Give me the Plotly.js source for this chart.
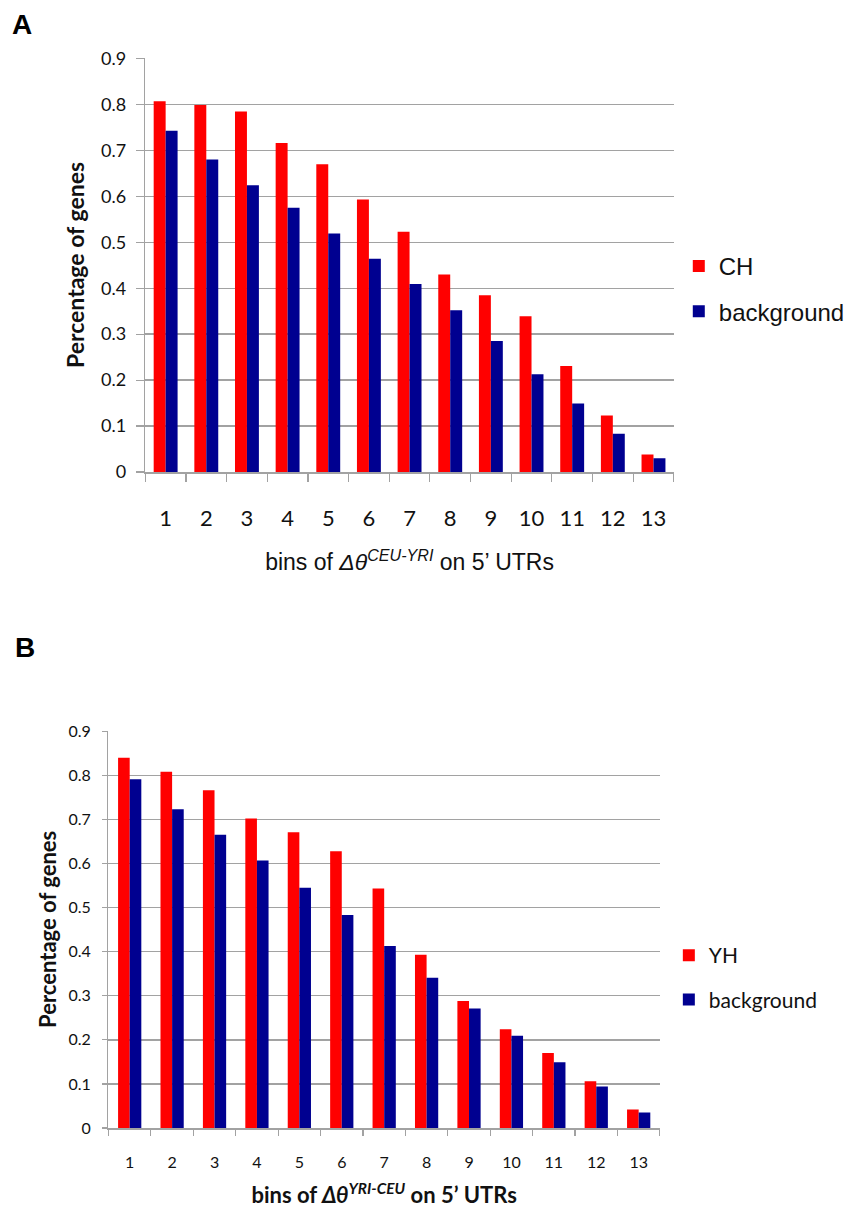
<!DOCTYPE html>
<html>
<head>
<meta charset="utf-8">
<script src="https://cdn.plot.ly/plotly-3.0.1.min.js"></script>
<style>
  html, body { margin: 0; padding: 0; background: #ffffff; }
  #chart { width: 850px; height: 1214px; }
</style>
</head>
<body>
<div id="chart"></div>
<script>
// ---- data ----
const bins = ['1','2','3','4','5','6','7','8','9','10','11','12','13'];

// Panel A : Δθ CEU-YRI
const chA = [0.807, 0.799, 0.785, 0.716, 0.670, 0.593, 0.523, 0.430, 0.385, 0.339, 0.231, 0.123, 0.038];
const bgA = [0.743, 0.680, 0.624, 0.575, 0.519, 0.464, 0.409, 0.352, 0.285, 0.213, 0.149, 0.083, 0.030];

// Panel B : Δθ YRI-CEU
const yhB = [0.840, 0.808, 0.766, 0.702, 0.671, 0.628, 0.543, 0.393, 0.288, 0.224, 0.170, 0.106, 0.042];
const bgB = [0.791, 0.723, 0.665, 0.607, 0.545, 0.483, 0.413, 0.341, 0.271, 0.209, 0.149, 0.094, 0.035];

const yTickVals = [0, 0.1, 0.2, 0.3, 0.4, 0.5, 0.6, 0.7, 0.8, 0.9];
const yTickText = ['0', '0.1', '0.2', '0.3', '0.4', '0.5', '0.6', '0.7', '0.8', '0.9'];

// ---- styles ----
const RED = '#ff0000';
const BLUE = '#000090';
const GRID = '#a2a2a2';
const CAL = 'Lato, "Open Sans", sans-serif';
const ARI = '"Liberation Sans", Arial, Helvetica, sans-serif';
const W = 850, H = 1214;
const px = v => v / W;
const py = v => 1 - v / H;

const wA = 0.294, wB = 0.274;

const traces = [
  { type: 'bar', x: bins, y: chA, name: 'CH', xaxis: 'x', yaxis: 'y',
    marker: { color: RED }, width: wA, offset: -wA, legend: 'legend', legendgroup: 'a1' },
  { type: 'bar', x: bins, y: bgA, name: 'background', xaxis: 'x', yaxis: 'y',
    marker: { color: BLUE }, width: wA, offset: 0, legend: 'legend', legendgroup: 'a2' },
  { type: 'bar', x: bins, y: yhB, name: 'YH', xaxis: 'x2', yaxis: 'y2',
    marker: { color: RED }, width: wB, offset: -wB, legend: 'legend2', legendgroup: 'b1' },
  { type: 'bar', x: bins, y: bgB, name: 'background', xaxis: 'x2', yaxis: 'y2',
    marker: { color: BLUE }, width: wB, offset: 0, legend: 'legend2', legendgroup: 'b2' }
];

const layout = {
  width: W, height: H, autosize: false,
  margin: { l: 0, r: 0, t: 0, b: 0 },
  paper_bgcolor: '#ffffff', plot_bgcolor: '#ffffff',
  barmode: 'group',
  showlegend: true,
  xaxis: {
    domain: [px(146), px(677)], anchor: 'y', type: 'category',
    showgrid: false, showline: true, linecolor: GRID, linewidth: 1.5,
    ticks: 'outside', tickson: 'boundaries', ticklen: 8, tickcolor: GRID, tickwidth: 1.2,
    ticklabelstandoff: 26,
    tickfont: { family: CAL, size: 22, color: '#111' },
    title: { text: 'bins of <i>Δθ<sup>CEU-YRI</sup></i> on 5’ UTRs',
             font: { family: ARI, size: 23, color: '#111' }, standoff: 24 },
    fixedrange: true
  },
  yaxis: {
    domain: [py(472), py(58)], anchor: 'x', range: [0, 0.9012],
    tickvals: yTickVals, ticktext: yTickText,
    showgrid: true, gridcolor: GRID, gridwidth: 1.5, zeroline: false,
    showline: true, linecolor: GRID, linewidth: 1.5,
    ticks: 'outside', ticklen: 8, tickcolor: GRID, tickwidth: 1.2,
    ticklabelstandoff: 6,
    tickfont: { family: CAL, size: 18, color: '#111' },
    title: { text: '<b>Percentage of genes</b>', font: { family: CAL, size: 23, color: '#111' }, standoff: 10 },
    fixedrange: true
  },
  xaxis2: {
    domain: [px(109), px(663)], anchor: 'y2', type: 'category',
    showgrid: false, showline: true, linecolor: GRID, linewidth: 1.5,
    ticks: 'outside', tickson: 'boundaries', ticklen: 6, tickcolor: GRID, tickwidth: 1.2,
    ticklabelstandoff: 19,
    tickfont: { family: CAL, size: 16, color: '#111' },
    title: { text: '<b>bins of <i>Δθ<sup>YRI-CEU</sup></i> on 5’ UTRs</b>',
             font: { family: CAL, size: 22, color: '#111' }, standoff: 18 },
    fixedrange: true
  },
  yaxis2: {
    domain: [py(1128), py(730.7)], anchor: 'x2', range: [0, 0.9012],
    tickvals: yTickVals, ticktext: yTickText,
    showgrid: true, gridcolor: GRID, gridwidth: 1.5, zeroline: false,
    showline: true, linecolor: GRID, linewidth: 1.5,
    ticks: 'outside', ticklen: 5, tickcolor: GRID, tickwidth: 1.2,
    ticklabelstandoff: 8,
    tickfont: { family: CAL, size: 16, color: '#111' },
    title: { text: '<b>Percentage of genes</b>', font: { family: CAL, size: 22, color: '#111' }, standoff: 5 },
    fixedrange: true
  },
  legend: {
    x: px(682), xanchor: 'left', y: py(244), yanchor: 'top',
    traceorder: 'grouped', tracegroupgap: 11, bgcolor: 'rgba(0,0,0,0)', borderwidth: 0,
    font: { family: ARI, size: 24, color: '#111' }
  },
  legend2: {
    x: px(672), xanchor: 'left', y: py(935), yanchor: 'top',
    traceorder: 'grouped', tracegroupgap: 14, bgcolor: 'rgba(0,0,0,0)', borderwidth: 0,
    font: { family: CAL, size: 21, color: '#111' }
  },
  annotations: [
    { text: '<b>A</b>', xref: 'paper', yref: 'paper', x: px(10), y: py(25), xanchor: 'left', yanchor: 'middle',
      showarrow: false, font: { family: ARI, size: 28, color: '#000' } },
    { text: '<b>B</b>', xref: 'paper', yref: 'paper', x: px(13), y: py(647), xanchor: 'left', yanchor: 'middle',
      showarrow: false, font: { family: ARI, size: 28, color: '#000' } }
  ]
};

Plotly.newPlot('chart', traces, layout, { staticPlot: true, displayModeBar: false });
</script>
</body>
</html>
